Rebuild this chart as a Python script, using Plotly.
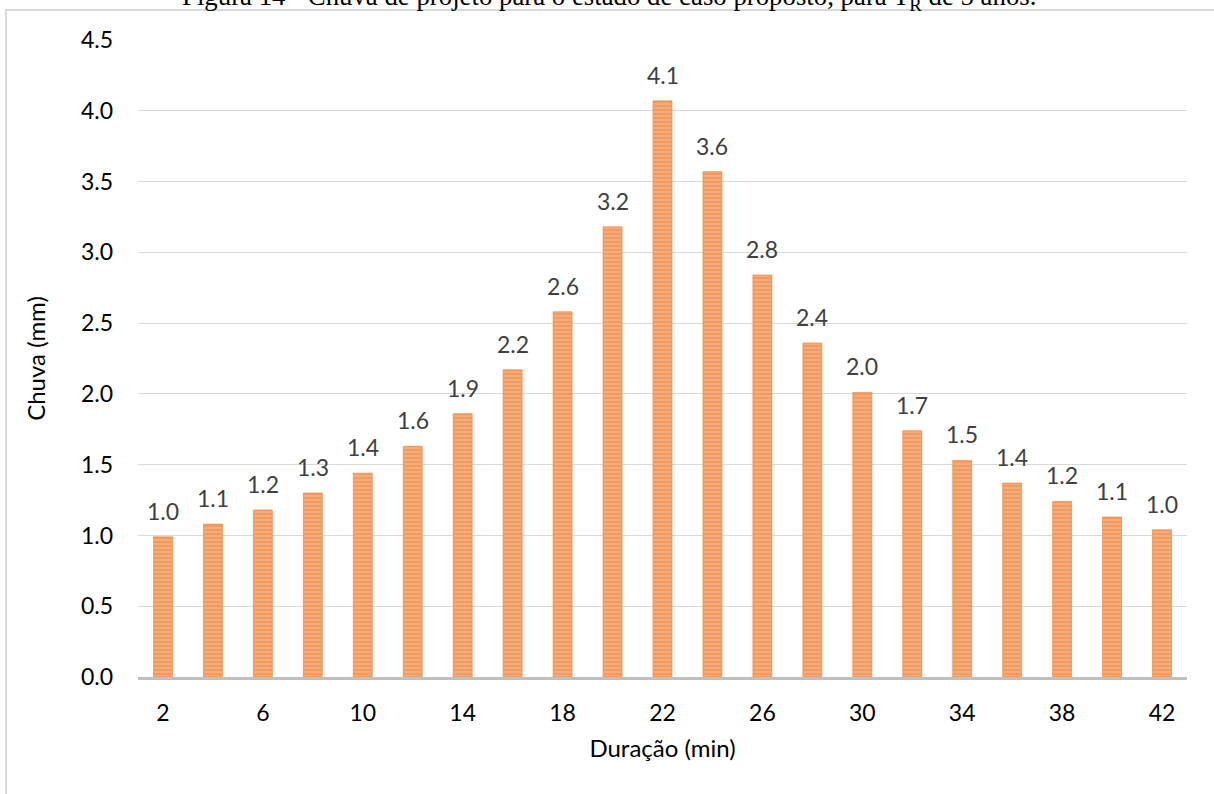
import plotly.graph_objects as go

duracao = list(range(2, 44, 2))
chuva = [0.99, 1.08, 1.18, 1.30, 1.44, 1.63, 1.86, 2.17, 2.58, 3.18, 4.07,
         3.57, 2.84, 2.36, 2.01, 1.74, 1.53, 1.37, 1.24, 1.13, 1.04]
x_ticks = list(range(2, 44, 4))
y_ticks = [0, 0.5, 1.0, 1.5, 2.0, 2.5, 3.0, 3.5, 4.0, 4.5]
title_text = "Figura 14 - Chuva de projeto para o estado de caso proposto, para T<sub>R</sub> de 5 anos."

FONT = "Lato"

fig = go.Figure()
fig.add_trace(go.Bar(
    x=duracao, y=chuva, width=0.76,
    marker=dict(color="#F5B88E",
                line=dict(color="#ED7D31", width=0.6),
                pattern=dict(shape="-", fgcolor="#ED7D31", size=4, solidity=0.7)),
    hoverinfo="skip",
))

for xv, yv in zip(duracao, chuva):
    fig.add_annotation(x=xv, y=yv, text=f"{yv:.1f}", showarrow=False,
                       yanchor="middle", yshift=26,
                       font=dict(family=FONT, size=23, color="#404040"))

fig.add_annotation(xref="paper", yref="paper", x=0.449, y=1.0361, xanchor="center",
                   yanchor="bottom", text=title_text, showarrow=False,
                   font=dict(family="Liberation Serif", size=26.8, color="#000000"))

# chart frame (only top/left edges visible)
fig.add_shape(type="rect", xref="paper", yref="paper",
              x0=-0.1258, x1=1.04, y0=-0.2, y1=1.0471,
              line=dict(color="#D9D9D9", width=2), fillcolor="rgba(0,0,0,0)", layer="below")

fig.update_layout(
    width=1214, height=794,
    margin=dict(l=138, r=27, t=40, b=117),
    paper_bgcolor="white", plot_bgcolor="white",
    showlegend=False,
    font=dict(family=FONT, size=23, color="#000000"),
    xaxis=dict(range=[1, 43], tickvals=x_ticks, ticktext=[str(v) for v in x_ticks],
               showgrid=False, zeroline=False, showline=True, linecolor="#BFBFBF",
               linewidth=3, ticks="", ticklabelstandoff=13,
               title=dict(text="Duração (min)", font=dict(family=FONT, size=24, color="#000000"), standoff=16),
               tickfont=dict(family=FONT, size=23, color="#000000")),
    yaxis=dict(range=[0, 4.5], tickvals=y_ticks, ticktext=[f"{v:.1f}" for v in y_ticks],
               showgrid=True, gridcolor="#D9D9D9", gridwidth=1.3, zeroline=False,
               ticks="", ticklabelstandoff=24,
               title=dict(text="Chuva (mm)", font=dict(family=FONT, size=24, color="#000000"), standoff=28),
               tickfont=dict(family=FONT, size=23, color="#000000")),
)

fig.write_html("out.html")
